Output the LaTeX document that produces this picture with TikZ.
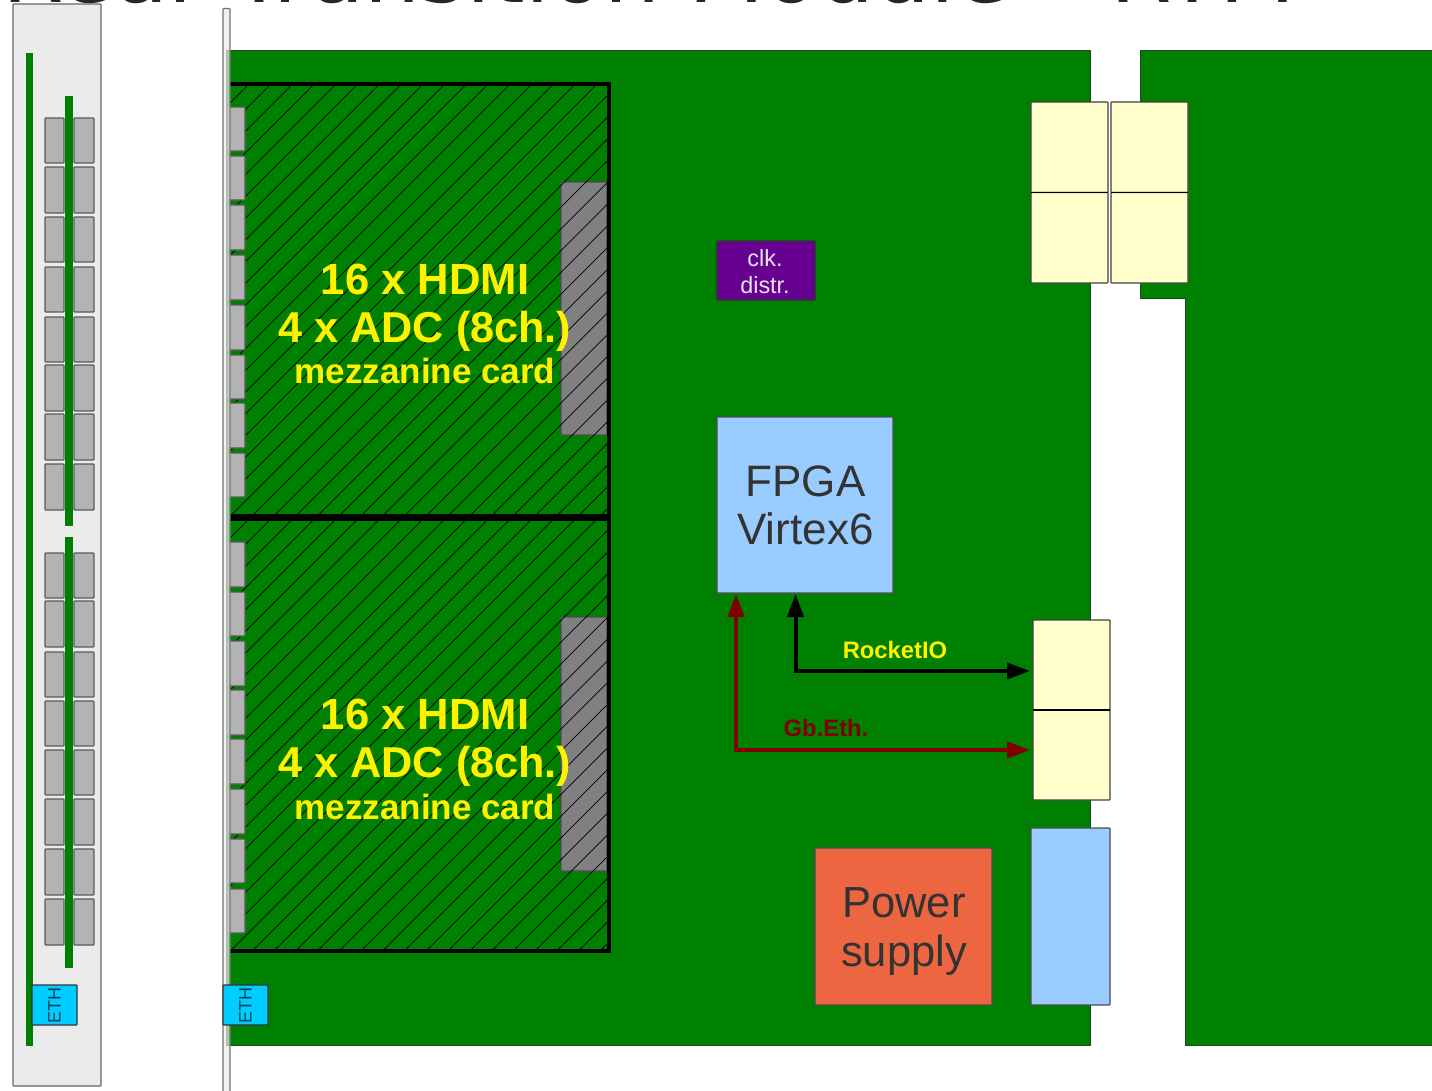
\documentclass[tikz,border=0pt]{standalone}
\usepackage{fontspec}
\setmainfont{Liberation Sans}
\newfontfamily\titlefont{DejaVu Sans}
\usetikzlibrary{arrows.meta}
\definecolor{pcb}{HTML}{008000}
\definecolor{pcbline}{HTML}{1C4A1C}
\definecolor{panelgray}{HTML}{EBEBEB}
\definecolor{conngray}{HTML}{B3B3B3}
\definecolor{midgray}{HTML}{808080}
\definecolor{creamy}{HTML}{FFFFCC}
\definecolor{skyb}{HTML}{99CCFF}
\definecolor{ethc}{HTML}{00CCFF}
\definecolor{clkp}{HTML}{660090}
\definecolor{pwr}{HTML}{EC6641}
\definecolor{darkred}{HTML}{800000}
\definecolor{txtgray}{HTML}{333333}
\tikzset{
  boxbase/.style={draw=#1, line width=1.1pt, rounded corners=0.7pt, inner sep=0pt, outer sep=0pt, anchor=north west},
  conn/.style={boxbase=black!65, fill=conngray},
  cream/.style={boxbase=black!75, fill=creamy},
  ethbox/.style={boxbase=black!80, fill=ethc},
  ethtext/.style={font=\fontsize{18}{18}\selectfont, text=black!65!ethc, rotate=90, inner sep=0pt},
  mezlabel/.style={text=yellow, align=center, inner sep=0pt, anchor=base},
  sig/.style={line width=4pt, {Triangle[length=23pt,width=16pt]}-{Triangle[length=23pt,width=16pt]}},
}
\newcommand{\bx}[6]{\node[#1, minimum width=#4pt-#2pt, minimum height=#5pt-#3pt] (#6) at (#2,#3) {};}
\begin{document}
\begin{tikzpicture}[x=1pt,y=-1pt]
\useasboundingbox (0,0) rectangle (1432,1090);
% clipped heading
\node[anchor=base west, inner sep=0pt, text=black!85] (heading) at (2,2.5) {\titlefont\fontsize{88.4}{88}\selectfont Rear Transition Module – RTM};
% left side view
\bx{boxbase=black!60, fill=panelgray}{13}{4}{101}{1086}{sidepanel}
\fill[pcb] (26,53) rectangle (33,1046);
\fill[pcb] (65,96) rectangle (73,526);
\fill[pcb] (65,537) rectangle (73,968);
\foreach \i/\a/\b in {1/118/163,2/167/213,3/217/262,4/267/312,5/317/362,6/365/411,7/414/460,8/464/510,
                      9/553/598,10/601/647,11/652/697,12/701/746,13/750/795,14/799/845,15/849/895,16/899/945}{
  \bx{conn}{45}{\a}{64}{\b}{sa\i}
  \bx{conn}{74}{\a}{94}{\b}{sb\i}
}
\bx{ethbox}{32}{985}{77}{1025}{etha}
\node[ethtext] (ethalabel) at (etha.center) {ETH};
% boards
\draw[draw=pcbline, line width=1pt, fill=pcb] (226,50.5) -- (1090,50.5) -- (1090,1045) -- (226,1045) -- cycle;
\draw[draw=pcbline, line width=1pt, fill=pcb] (1440,50.5) -- (1140.5,50.5) -- (1140.5,298) -- (1185.5,298) -- (1185.5,1045) -- (1440,1045);
% mezzanines
\fill[pcb] (230,84) rectangle (609,951);
\bx{boxbase=black!70, fill=midgray}{561}{182}{607}{435}{mgrey}
\bx{boxbase=black!70, fill=midgray}{561}{617}{607}{871}{mgreyb}
\begin{scope}
\clip (230,84) rectangle (609,951);
\foreach \n in {0,...,60}{
  \pgfmathsetmacro{\cc}{333-21.75*2+21.75*\n}
  \draw[black, line width=0.7pt] (\cc-83+100,-17) -- (\cc-951-100,1051);
}
\end{scope}
\draw[black, line width=4pt] (230,84) -- (608.5,84) -- (608.5,951) -- (230,951);
\draw[black, line width=7pt] (230,517) -- (608.5,517);
% front panel connectors
\foreach \i/\a/\b in {1/107/151,2/156/200,3/205/250,4/255/300,5/305/350,6/355/399,7/403/448,8/453/497,
                      9/542/587,10/592/636,11/641/686,12/690/735,13/739/784,14/789/834,15/839/883,16/889/933}{
  \bx{conn}{228}{\a}{245}{\b}{fc\i}
}
% front panel
\draw[draw=black!55, line width=1.3pt, fill=panelgray, fill opacity=0.7, rounded corners=1pt] (223,8.5) rectangle (230,1095);
\bx{ethbox}{223}{985}{268}{1025}{ethb}
\node[ethtext] (ethblabel) at (ethb.center) {ETH};
% mezzanine text
\node[mezlabel, font=\bfseries\fontsize{43.6}{48}\selectfont] (h1) at (425,294.5) {16 x HDMI};
\node[mezlabel, font=\bfseries\fontsize{43.2}{48}\selectfont] (a1) at (425,342.5) {4 x ADC (8ch.)};
\node[mezlabel, font=\bfseries\fontsize{35}{40}\selectfont] (m1) at (425,383) {mezzanine card};
\node[mezlabel, font=\bfseries\fontsize{43.6}{48}\selectfont] (h2) at (425,729) {16 x HDMI};
\node[mezlabel, font=\bfseries\fontsize{43.2}{48}\selectfont] (a2) at (425,777) {4 x ADC (8ch.)};
\node[mezlabel, font=\bfseries\fontsize{35}{40}\selectfont] (m2) at (425,819) {mezzanine card};
% components
\bx{boxbase=black!80, fill=clkp}{717}{241}{815}{300}{clk}
\node[text=black!10, font=\fontsize{23.4}{27}\selectfont, align=center, inner sep=0pt] (clklabel) at (765,271.5) {clk.\\distr.};
\bx{boxbase=black!70, fill=skyb}{717}{417}{893}{593}{fpga}
\node[text=txtgray, font=\fontsize{44}{48}\selectfont, align=center, inner sep=0pt] (fpgalabel) at (805.5,505) {FPGA\\Virtex6};
\bx{boxbase=black!70, fill=pwr}{815}{848}{992}{1005}{power}
\node[text=txtgray, font=\fontsize{43.5}{49}\selectfont, align=center, inner sep=0pt] (powerlabel) at (904,932) {Power\\supply};
\bx{boxbase=black!70, fill=skyb}{1031}{828}{1110}{1005}{conblue}
\bx{cream}{1031}{102}{1108}{192.5}{ca}
\bx{cream}{1031}{192.5}{1108}{283}{cb}
\bx{cream}{1111}{102}{1188}{192.5}{cc}
\bx{cream}{1111}{192.5}{1188}{283}{cd}
\bx{cream}{1033}{620}{1110}{710}{ce}
\bx{cream}{1033}{710}{1110}{800}{cf}
\draw[black, line width=1.8pt] (ca.south west) -- (ca.south east);
\draw[black, line width=1.8pt] (cc.south west) -- (cc.south east);
\draw[black, line width=1.8pt] (ce.south west) -- (ce.south east);
% signals
\coordinate (rb) at (795.5,671);
\coordinate (gb) at (736,750);
\draw[sig, black, shorten <=1pt, shorten >=3pt] (fpga.south -| rb) -- (rb) -- (ce.west |- rb);
\draw[sig, darkred, shorten <=1pt, shorten >=3pt] (fpga.south -| gb) -- (gb) -- (cf.west |- gb);
\node[text=yellow, font=\bfseries\fontsize{23.8}{26}\selectfont, inner sep=0pt, anchor=base] (rio) at (895,658) {RocketIO};
\node[text=darkred, font=\bfseries\fontsize{23.8}{26}\selectfont, inner sep=0pt, anchor=base] (gbe) at (826,736) {Gb.Eth.};
\end{tikzpicture}
\end{document}
